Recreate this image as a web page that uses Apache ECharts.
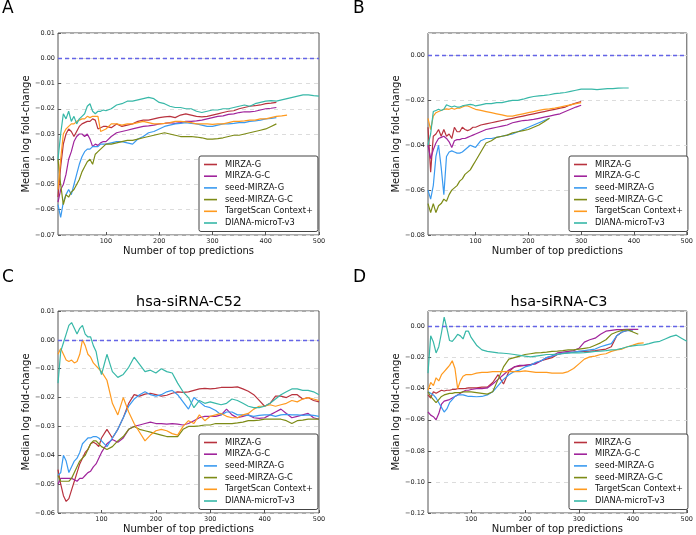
<!DOCTYPE html>
<html>
<head>
<meta charset="utf-8">
<script src="https://cdn.jsdelivr.net/npm/echarts@6/dist/echarts.min.js"></script>
<style>
html, body { margin: 0; padding: 0; background: #fff; }
#main { width: 696px; height: 535px; }
</style>
</head>
<body>
<div id="main"></div>
<script>
// sample positions (number of top predictions)
var xAB = [10,15,20,25,30,35,40,45,50,55,60,65,70,75,80,85,90,95,100,
  110,120,130,140,150,160,170,180,190,200,210,220,230,240,250,260,270,280,290,300,
  310,320,330,340,350,360,370,380,390,400,410,420,430,440,450,460,470,480,490,500];
var xCD = [20,25,30,35,40,45,50,55,60,65,70,75,80,85,90,95,100,
  110,120,130,140,150,160,170,180,190,200,210,220,230,240,250,260,270,280,290,300,
  310,320,330,340,350,360,370,380,390,400,410,420,430,440,450,460,470,480,490,500];
var xTicks = [100, 200, 300, 400, 500];

// panel A
var mirzaG_A = [-0.055,-0.043,-0.034,-0.030,-0.028,-0.029,-0.031,-0.029,-0.027,-0.026,-0.0255,-0.025,-0.025,-0.024,-0.0245,-0.028,-0.0275,-0.027,-0.027,
  -0.0275,-0.026,-0.027,-0.0265,-0.026,-0.025,-0.0245,-0.0245,-0.024,-0.0235,
  -0.0232,-0.023,-0.0235,-0.0225,-0.022,-0.0225,-0.023,-0.0232,-0.023,-0.0225,
  -0.022,-0.0215,-0.021,-0.0208,-0.020,-0.0195,-0.019,-0.0188,-0.0185,-0.018,
  -0.0178,-0.0175];
var mirzaGC_A = [-0.057,-0.052,-0.050,-0.046,-0.040,-0.037,-0.033,-0.031,-0.030,-0.030,-0.031,-0.030,-0.032,-0.035,-0.034,-0.0345,-0.0335,-0.033,-0.033,
  -0.031,-0.0295,-0.029,-0.0285,-0.028,-0.0275,-0.027,-0.0268,-0.0265,-0.026,
  -0.0258,-0.0255,-0.0258,-0.0255,-0.025,-0.025,-0.0248,-0.0245,-0.024,-0.0235,
  -0.023,-0.0228,-0.0222,-0.022,-0.0215,-0.0212,-0.0212,-0.021,-0.0205,-0.020,
  -0.0198,-0.0195];
var seedG_A = [-0.058,-0.063,-0.057,-0.054,-0.052,-0.054,-0.050,-0.046,-0.042,-0.039,-0.037,-0.036,-0.036,-0.035,-0.035,-0.035,-0.034,-0.034,-0.034,
  -0.0335,-0.033,-0.033,-0.0335,-0.034,-0.032,-0.031,-0.0295,-0.029,-0.028,
  -0.027,-0.0265,-0.026,-0.0258,-0.0255,-0.0258,-0.026,-0.0265,-0.027,-0.027,
  -0.0265,-0.026,-0.026,-0.0258,-0.0255,-0.0255,-0.025,-0.0248,-0.0245,-0.024,
  -0.0238,-0.0235];
var seedGC_A = [-0.040,-0.050,-0.058,-0.054,-0.055,-0.053,-0.052,-0.050,-0.048,-0.045,-0.043,-0.041,-0.040,-0.042,-0.038,-0.037,-0.036,-0.035,-0.034,
  -0.034,-0.0335,-0.033,-0.0325,-0.0325,-0.032,-0.0315,-0.031,-0.0305,-0.030,
  -0.0295,-0.030,-0.0305,-0.031,-0.031,-0.031,-0.0312,-0.0315,-0.032,-0.032,
  -0.0318,-0.0315,-0.031,-0.0305,-0.0305,-0.030,-0.0295,-0.029,-0.0285,-0.028,
  -0.027,-0.026];
var tscan_A = [-0.052,-0.040,-0.030,-0.028,-0.027,-0.026,-0.026,-0.025,-0.0245,-0.024,-0.024,-0.023,-0.0235,-0.023,-0.023,-0.023,-0.029,-0.0285,-0.028,
  -0.026,-0.026,-0.0265,-0.026,-0.026,-0.0255,-0.025,-0.0255,-0.026,-0.026,
  -0.0258,-0.0255,-0.025,-0.025,-0.0252,-0.0255,-0.026,-0.026,-0.026,-0.0262,
  -0.026,-0.026,-0.0255,-0.025,-0.025,-0.0248,-0.0245,-0.0245,-0.024,-0.024,
  -0.0235,-0.023,-0.0228,-0.0225];
var diana_A = [-0.040,-0.030,-0.022,-0.024,-0.021,-0.025,-0.023,-0.026,-0.024,-0.023,-0.022,-0.019,-0.018,-0.021,-0.022,-0.021,-0.021,-0.0205,-0.0208,
  -0.020,-0.0185,-0.018,-0.017,-0.017,-0.0165,-0.016,-0.0155,-0.016,-0.0175,
  -0.018,-0.019,-0.0195,-0.0195,-0.020,-0.020,-0.021,-0.0215,-0.021,-0.0205,
  -0.0205,-0.020,-0.020,-0.0195,-0.019,-0.0185,-0.019,-0.018,-0.0175,-0.017,
  -0.0168,-0.017,-0.0165,-0.016,-0.0155,-0.015,-0.0145,-0.0145,-0.0148,-0.015];

// panel B
var mirzaG_B = [-0.032,-0.052,-0.036,-0.035,-0.033,-0.036,-0.033,-0.036,-0.035,-0.037,-0.032,-0.034,-0.034,-0.032,-0.033,-0.0335,-0.033,-0.032,-0.032,
  -0.031,-0.0305,-0.030,-0.0295,-0.029,-0.0285,-0.028,-0.0275,-0.027,-0.0265,
  -0.026,-0.0255,-0.025,-0.0245,-0.024,-0.0235,-0.023,-0.022,-0.0212,-0.0205];
var mirzaGC_B = [-0.040,-0.046,-0.042,-0.039,-0.037,-0.0365,-0.036,-0.037,-0.0385,-0.041,-0.038,-0.0375,-0.0375,-0.037,-0.037,-0.0365,-0.036,-0.0355,-0.035,
  -0.034,-0.033,-0.0325,-0.032,-0.0315,-0.031,-0.030,-0.0295,-0.029,-0.0288,
  -0.0285,-0.028,-0.0275,-0.027,-0.0265,-0.026,-0.025,-0.024,-0.023,-0.0222];
var seedG_B = [-0.060,-0.064,-0.058,-0.045,-0.040,-0.050,-0.062,-0.045,-0.043,-0.0425,-0.043,-0.0435,-0.0435,-0.043,-0.042,-0.041,-0.040,-0.0405,-0.041,
  -0.038,-0.037,-0.037,-0.0365,-0.036,-0.0355,-0.035,-0.034,-0.033,-0.032,
  -0.031,-0.030,-0.029,-0.028];
var seedGC_B = [-0.066,-0.070,-0.066,-0.070,-0.067,-0.066,-0.064,-0.065,-0.062,-0.060,-0.059,-0.058,-0.056,-0.055,-0.053,-0.052,-0.051,-0.049,-0.047,
  -0.043,-0.039,-0.038,-0.0365,-0.036,-0.0355,-0.0345,-0.034,-0.0335,-0.033,
  -0.032,-0.031,-0.0295,-0.028];
var tscan_B = [-0.028,-0.033,-0.027,-0.0255,-0.025,-0.0245,-0.024,-0.0238,-0.024,-0.0235,-0.024,-0.0235,-0.0235,-0.023,-0.0225,-0.0225,-0.023,-0.0235,-0.024,
  -0.0245,-0.025,-0.0255,-0.026,-0.0265,-0.027,-0.027,-0.0265,-0.026,-0.0255,
  -0.025,-0.0245,-0.024,-0.0238,-0.0235,-0.023,-0.0225,-0.022,-0.0215,-0.021];
var diana_B = [-0.040,-0.035,-0.025,-0.0245,-0.024,-0.0245,-0.024,-0.022,-0.0225,-0.023,-0.0225,-0.023,-0.023,-0.0225,-0.0222,-0.022,-0.0218,-0.022,-0.0225,
  -0.022,-0.0215,-0.0215,-0.021,-0.021,-0.0205,-0.020,-0.020,-0.0195,-0.0188,
  -0.0183,-0.018,-0.0178,-0.0175,-0.017,-0.0168,-0.0165,-0.016,-0.0155,-0.015,
  -0.015,-0.015,-0.0152,-0.015,-0.0148,-0.0148,-0.0146,-0.0145,-0.0145];

// panel C (hsa-siRNA-C52)
var mirzaG_C = [-0.045,-0.050,-0.054,-0.056,-0.055,-0.052,-0.049,-0.046,-0.043,-0.041,-0.039,-0.038,-0.036,-0.0355,-0.036,-0.037,-0.034,
  -0.031,-0.034,-0.031,-0.027,-0.022,-0.019,-0.0195,-0.0188,-0.0185,-0.019,
  -0.0195,-0.0192,-0.0185,-0.018,-0.0182,-0.018,-0.0175,-0.017,-0.0168,-0.017,
  -0.0168,-0.0165,-0.0165,-0.0165,-0.0163,-0.017,-0.0178,-0.019,-0.021,-0.023,
  -0.022,-0.0195,-0.0195,-0.020,-0.019,-0.019,-0.0205,-0.020,-0.021,-0.0215];
var mirzaGC_C = [-0.050,-0.048,-0.048,-0.048,-0.048,-0.048,-0.0485,-0.049,-0.048,-0.048,-0.047,-0.046,-0.0455,-0.044,-0.043,-0.041,-0.039,
  -0.036,-0.0345,-0.0355,-0.034,-0.031,-0.030,-0.0295,-0.029,-0.0285,-0.029,
  -0.029,-0.0292,-0.029,-0.0292,-0.0295,-0.029,-0.028,-0.027,-0.0265,-0.0265,
  -0.0265,-0.026,-0.024,-0.026,-0.027,-0.0265,-0.026,-0.027,-0.0272,-0.027,
  -0.026,-0.025,-0.024,-0.0255,-0.027,-0.0265,-0.026,-0.0255,-0.027,-0.0275];
var seedG_C = [-0.047,-0.046,-0.040,-0.042,-0.046,-0.044,-0.042,-0.041,-0.039,-0.036,-0.035,-0.034,-0.034,-0.0335,-0.0335,-0.034,-0.035,
  -0.037,-0.034,-0.031,-0.027,-0.023,-0.0205,-0.019,-0.018,-0.019,-0.0195,
  -0.019,-0.018,-0.0175,-0.019,-0.0215,-0.024,-0.020,-0.0215,-0.023,-0.0235,
  -0.0245,-0.026,-0.025,-0.025,-0.026,-0.026,-0.0262,-0.0265,-0.0262,-0.026,
  -0.026,-0.0265,-0.026,-0.0258,-0.026,-0.026,-0.0262,-0.026,-0.0262,-0.0265];
var seedGC_C = [-0.047,-0.049,-0.049,-0.049,-0.049,-0.048,-0.046,-0.044,-0.042,-0.041,-0.040,-0.038,-0.036,-0.035,-0.035,-0.036,-0.037,
  -0.038,-0.037,-0.035,-0.0335,-0.031,-0.030,-0.031,-0.0315,-0.032,-0.0325,
  -0.033,-0.0335,-0.0335,-0.0335,-0.031,-0.030,-0.030,-0.0298,-0.0295,-0.0295,
  -0.029,-0.029,-0.029,-0.029,-0.0288,-0.0285,-0.028,-0.028,-0.0278,-0.0275,
  -0.0275,-0.0275,-0.0275,-0.028,-0.029,-0.028,-0.0278,-0.0275,-0.0275,-0.0275];
var tscan_C = [-0.005,-0.003,-0.005,-0.007,-0.0075,-0.007,-0.008,-0.0075,-0.005,0.000,-0.002,-0.005,-0.006,-0.008,-0.009,-0.010,-0.011,
  -0.014,-0.022,-0.026,-0.020,-0.025,-0.029,-0.032,-0.035,-0.033,-0.0315,
  -0.031,-0.0315,-0.0325,-0.033,-0.030,-0.028,-0.029,-0.026,-0.028,-0.0265,
  -0.026,-0.0255,-0.0265,-0.027,-0.027,-0.026,-0.0255,-0.024,-0.023,-0.023,
  -0.0225,-0.023,-0.0225,-0.022,-0.021,-0.0215,-0.0205,-0.020,-0.0205,-0.021];
var diana_C = [-0.015,-0.004,-0.001,0.002,0.005,0.006,0.004,0.002,0.004,0.005,0.002,0.001,0.001,-0.002,-0.004,-0.009,-0.012,
  -0.005,-0.011,-0.013,-0.012,-0.0095,-0.006,-0.0085,-0.011,-0.0105,-0.0115,
  -0.010,-0.011,-0.0115,-0.015,-0.018,-0.020,-0.0235,-0.021,-0.022,-0.0215,
  -0.022,-0.0225,-0.022,-0.0205,-0.021,-0.022,-0.023,-0.0235,-0.0235,-0.023,
  -0.022,-0.0205,-0.019,-0.018,-0.017,-0.017,-0.0175,-0.0175,-0.018,-0.019];

// panel D (hsa-siRNA-C3)
var mirzaG_D = [-0.044,-0.046,-0.042,-0.043,-0.042,-0.041,-0.0415,-0.041,-0.041,-0.0405,-0.0405,-0.040,-0.040,-0.040,-0.0398,-0.0395,-0.0395,
  -0.0395,-0.039,-0.039,-0.036,-0.031,-0.037,-0.029,-0.026,-0.0255,-0.025,
  -0.0245,-0.0235,-0.022,-0.021,-0.020,-0.018,-0.0172,-0.0168,-0.0165,-0.016,
  -0.016,-0.0158,-0.0155,-0.015,-0.0145,-0.013,-0.006,-0.0035,-0.0025,-0.002];
var mirzaGC_D = [-0.055,-0.057,-0.058,-0.060,-0.056,-0.050,-0.048,-0.0475,-0.047,-0.046,-0.045,-0.044,-0.043,-0.042,-0.041,-0.041,-0.0405,
  -0.040,-0.040,-0.0395,-0.037,-0.034,-0.031,-0.028,-0.026,-0.025,-0.025,
  -0.0245,-0.024,-0.022,-0.020,-0.019,-0.017,-0.0165,-0.016,-0.0155,-0.014,
  -0.010,-0.0085,-0.0075,-0.005,-0.003,-0.0025,-0.002,-0.002,-0.0018,-0.0018,
  -0.0018];
var seedG_D = [-0.042,-0.043,-0.044,-0.046,-0.049,-0.052,-0.055,-0.053,-0.049,-0.047,-0.045,-0.044,-0.044,-0.044,-0.0445,-0.045,-0.045,
  -0.0452,-0.045,-0.044,-0.042,-0.038,-0.034,-0.031,-0.029,-0.028,-0.026,
  -0.025,-0.023,-0.022,-0.020,-0.019,-0.018,-0.0172,-0.017,-0.0165,-0.016,
  -0.0155,-0.015,-0.0145,-0.013,-0.012,-0.011,-0.006,-0.0035,-0.0025,-0.003];
var seedGC_D = [-0.042,-0.045,-0.047,-0.049,-0.047,-0.045,-0.044,-0.0435,-0.043,-0.043,-0.0425,-0.0425,-0.0425,-0.042,-0.042,-0.042,-0.042,
  -0.0425,-0.043,-0.0435,-0.042,-0.034,-0.026,-0.021,-0.020,-0.019,-0.018,
  -0.0175,-0.017,-0.0168,-0.0165,-0.016,-0.0158,-0.0155,-0.015,-0.015,-0.0145,
  -0.014,-0.0135,-0.012,-0.0105,-0.0085,-0.005,-0.0035,-0.0025,-0.002,-0.0035,
  -0.005];
var tscan_D = [-0.041,-0.036,-0.038,-0.033,-0.035,-0.031,-0.029,-0.027,-0.025,-0.022,-0.027,-0.040,-0.035,-0.032,-0.031,-0.031,-0.031,
  -0.030,-0.0295,-0.0295,-0.029,-0.029,-0.029,-0.0288,-0.029,-0.029,-0.0285,
  -0.029,-0.0295,-0.0295,-0.0295,-0.030,-0.030,-0.030,-0.029,-0.027,-0.024,
  -0.021,-0.0195,-0.019,-0.018,-0.0175,-0.016,-0.015,-0.0145,-0.013,-0.012,
  -0.0108,-0.0105];
var diana_D = [-0.030,-0.006,-0.010,-0.017,-0.013,-0.004,0.006,-0.001,-0.009,-0.0095,-0.0075,-0.005,-0.006,-0.008,-0.003,-0.003,-0.007,
  -0.012,-0.015,-0.016,-0.0165,-0.017,-0.0172,-0.0175,-0.018,-0.0185,-0.019,
  -0.0195,-0.019,-0.0185,-0.018,-0.018,-0.0178,-0.0175,-0.017,-0.017,-0.017,
  -0.0168,-0.0165,-0.016,-0.0158,-0.0155,-0.015,-0.0148,-0.014,-0.013,-0.0125,
  -0.012,-0.0118,-0.011,-0.010,-0.0095,-0.008,-0.0065,-0.0055,-0.0075,-0.0095];

var names = ['MIRZA-G', 'MIRZA-G-C', 'seed-MIRZA-G', 'seed-MIRZA-G-C', 'TargetScan Context+', 'DIANA-microT-v3'];
var colors = ['#b8323e', '#a0249c', '#3a9af0', '#7d8b16', '#ff9a1f', '#38b8a8'];

var panels = [
  { left: 58,  top: 33,  xMin: 10, yMin: -0.07, yMax: 0.01, yStep: 0.01, xs: xAB,
    lines: [mirzaG_A, mirzaGC_A, seedG_A, seedGC_A, tscan_A, diana_A] },
  { left: 428, top: 33,  xMin: 10, yMin: -0.08, yMax: 0.01, yStep: 0.02, xs: xAB,
    lines: [mirzaG_B, mirzaGC_B, seedG_B, seedGC_B, tscan_B, diana_B] },
  { left: 58,  top: 311, xMin: 20, yMin: -0.06, yMax: 0.01, yStep: 0.01, xs: xCD,
    lines: [mirzaG_C, mirzaGC_C, seedG_C, seedGC_C, tscan_C, diana_C] },
  { left: 428, top: 311, xMin: 20, yMin: -0.12, yMax: 0.01, yStep: 0.02, xs: xCD,
    lines: [mirzaG_D, mirzaGC_D, seedG_D, seedGC_D, tscan_D, diana_D] }
];

var font = 'DejaVu Sans';

function fmtY(v) {
  if (Math.abs(v) < 1e-9) return '0.00';
  return (v < 0 ? '\u2212' : '') + Math.abs(v).toFixed(2);
}

var grids = [], xAxes = [], yAxes = [], legends = [], series = [];
panels.forEach(function (p, i) {
  grids.push({ left: p.left, top: p.top, width: 261, height: 202,
    show: true, borderColor: '#555', borderWidth: 1 });
  xAxes.push({
    type: 'value', gridIndex: i, min: p.xMin, max: 500,
    name: 'Number of top predictions', nameLocation: 'middle', nameGap: 11,
    nameTextStyle: { fontFamily: font, fontSize: 10, color: '#111' },
    axisLine: { show: false, onZero: false },
    axisTick: { inside: true, length: 3, customValues: xTicks, lineStyle: { color: '#555' } },
    axisLabel: { customValues: xTicks, fontFamily: font, fontSize: 6.5, color: '#222', margin: 3 },
    splitLine: { show: false }
  });
  yAxes.push({
    type: 'value', gridIndex: i, min: p.yMin, max: p.yMax, interval: p.yStep,
    name: 'Median log fold-change', nameLocation: 'middle', nameGap: 26,
    nameTextStyle: { fontFamily: font, fontSize: 10, color: '#111' },
    axisLine: { show: false, onZero: false },
    axisTick: { inside: true, length: 3, lineStyle: { color: '#555' } },
    axisLabel: { formatter: fmtY, fontFamily: font, fontSize: 6.5, color: '#222', margin: 3,
      showMaxLabel: p.yStep === 0.01 },
    splitLine: { show: true, lineStyle: { type: [4, 4], color: '#dcdcdc', width: 1 } }
  });
  legends.push({
    data: names, orient: 'vertical', left: p.left + 141, top: p.top + 123,
    icon: 'rect', itemWidth: 13, itemHeight: 1.6, itemGap: 2.7,
    padding: [4, 5, 4, 5],
    backgroundColor: '#fff', borderColor: '#444', borderWidth: 1, borderRadius: 2,
    textStyle: { fontFamily: font, fontSize: 8.3, color: '#111', lineHeight: 9,
      padding: [0, 0, 0, 3] }
  });
  p.lines.forEach(function (vals, k) {
    var s = {
      name: names[k], type: 'line', xAxisIndex: i, yAxisIndex: i,
      symbol: 'none', silent: true,
      lineStyle: { color: colors[k], width: 1.2 },
      itemStyle: { color: colors[k] },
      data: vals.map(function (v, j) { return [p.xs[j], v]; })
    };
    if (k === 0) {
      s.markLine = { silent: true, symbol: 'none', label: { show: false },
        lineStyle: { type: [4, 3], color: '#6464e6', width: 1.3 },
        data: [{ yAxis: 0 }] };
    }
    series.push(s);
  });
});

var texts = [
  { t: 'A', x: 2, y: 9, size: 17, align: 'left' },
  { t: 'B', x: 353, y: 9, size: 17, align: 'left' },
  { t: 'C', x: 2, y: 278, size: 17, align: 'left' },
  { t: 'D', x: 353, y: 278, size: 17, align: 'left' },
  { t: 'hsa-siRNA-C52', x: 189, y: 302, size: 14.4, align: 'center' },
  { t: 'hsa-siRNA-C3', x: 559, y: 302, size: 14.4, align: 'center' }
];

var myChart = echarts.init(document.getElementById('main'));
var option = {
  animation: false,
  backgroundColor: '#fff',
  grid: grids,
  xAxis: xAxes,
  yAxis: yAxes,
  legend: legends,
  series: series,
  graphic: texts.map(function (d) {
    return { type: 'text', x: d.x, y: d.y, silent: true,
      style: { text: d.t, fill: '#000', font: d.size + 'px "' + font + '"',
        textAlign: d.align, textVerticalAlign: 'middle' } };
  })
};
myChart.setOption(option);
</script>
</body>
</html>
